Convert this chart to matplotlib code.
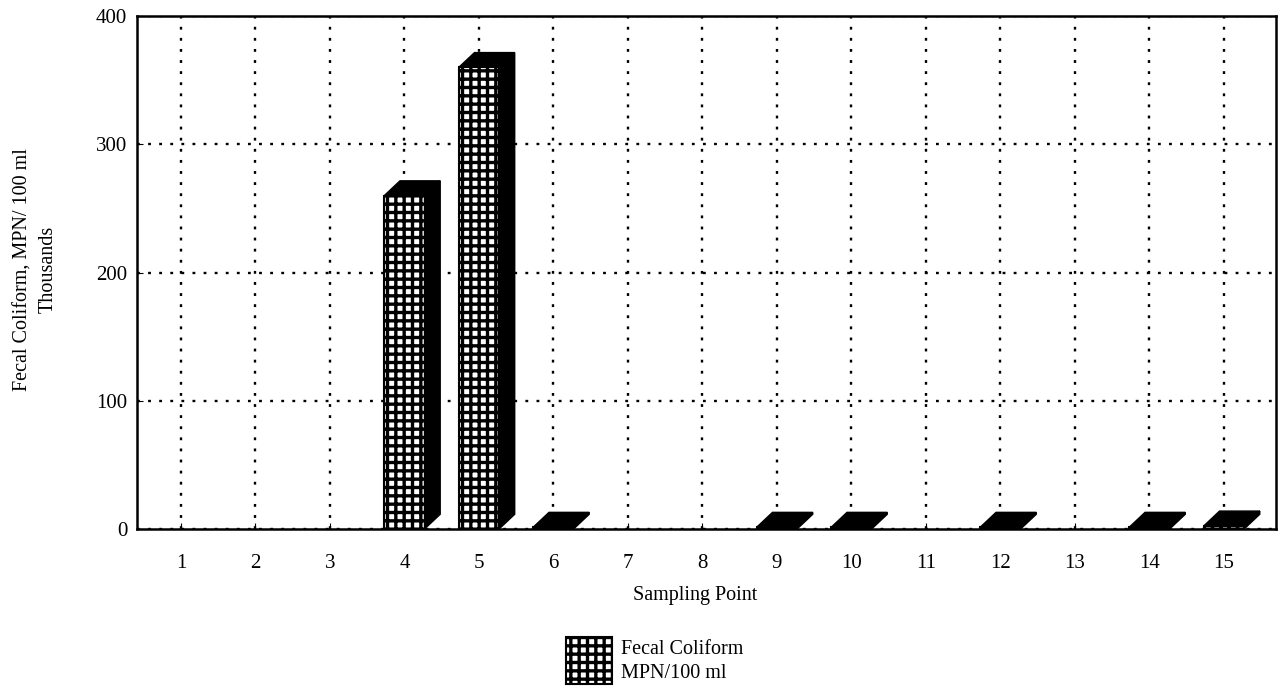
import numpy as np
import matplotlib
matplotlib.use("Agg")
import matplotlib.pyplot as plt
from matplotlib.patches import Polygon, Rectangle

# sampling points and fecal coliform counts (thousands MPN/100 ml)
points = list(range(1, 16))
coliform = [0, 0, 0, 260, 360, 1.5, 0, 0, 1.5, 1.5, 0, 1.5, 0, 1.5, 2.5]

plt.rcParams['font.family'] = ['Liberation Serif', 'DejaVu Serif']
plt.rcParams['hatch.linewidth'] = 2.4

'''
Draws a bar front with a grid hatch, plus a solid black top and side
to give the old-style 3D look.
'''
def bar3d(ax, x, v, width, dx, dy):
    if v <= 0:
        return
    ax.bar(x, v, width=width, color='white', edgecolor='black', hatch='++',
           linewidth=1.5, zorder=3)
    r = x + width / 2
    l = x - width / 2
    side = Polygon([(r, 0), (r + dx, dy), (r + dx, v + dy), (r, v)],
                   closed=True, facecolor='black', edgecolor='black', zorder=3)
    top = Polygon([(l, v), (l + dx, v + dy), (r + dx, v + dy), (r, v)],
                  closed=True, facecolor='black', edgecolor='black', zorder=3)
    ax.add_patch(side)
    ax.add_patch(top)


def main():
    fig = plt.figure(figsize=(12.8, 6.97), dpi=100)
    ax = fig.add_axes([0.107, 0.241, 0.890, 0.736])

    for x, v in zip(points, coliform):
        bar3d(ax, x, v, 0.54, 0.21, 11.5)

    ax.set_xlim(0.41, 15.7)
    ax.set_ylim(0, 400)
    ax.set_xticks(points)
    ax.set_xticklabels([str(p) for p in points])
    ax.set_yticks([0, 100, 200, 300, 400])
    ax.grid(True, color='black', linestyle=(0, (1.2, 3.5)), linewidth=1.7, zorder=1)
    ax.set_axisbelow(True)
    ax.tick_params(axis='both', direction='in', length=4, labelsize=15)
    ax.tick_params(axis='x', pad=18)
    ax.tick_params(axis='y', pad=7)
    for s in ax.spines.values():
        s.set_linewidth(1.8)

    fig.text(0.028, 0.613, "Fecal Coliform, MPN/ 100 ml\nThousands", rotation=90,
             ha='center', va='center', fontsize=14.5, linespacing=1.45)
    fig.text(0.543, 0.146, "Sampling Point", ha='center', va='center', fontsize=14.5)

    # legend swatch and text
    fig.patches.append(Rectangle((0.442, 0.018), 0.036, 0.068, transform=fig.transFigure,
                                 facecolor='white', edgecolor='black', hatch='++',
                                 linewidth=1.5))
    fig.text(0.485, 0.068, "Fecal Coliform", ha='left', va='center', fontsize=14.5)
    fig.text(0.485, 0.033, "MPN/100 ml", ha='left', va='center', fontsize=14.5)

    fig.savefig("out.png", dpi=100)

if __name__ == "__main__":
    main()
